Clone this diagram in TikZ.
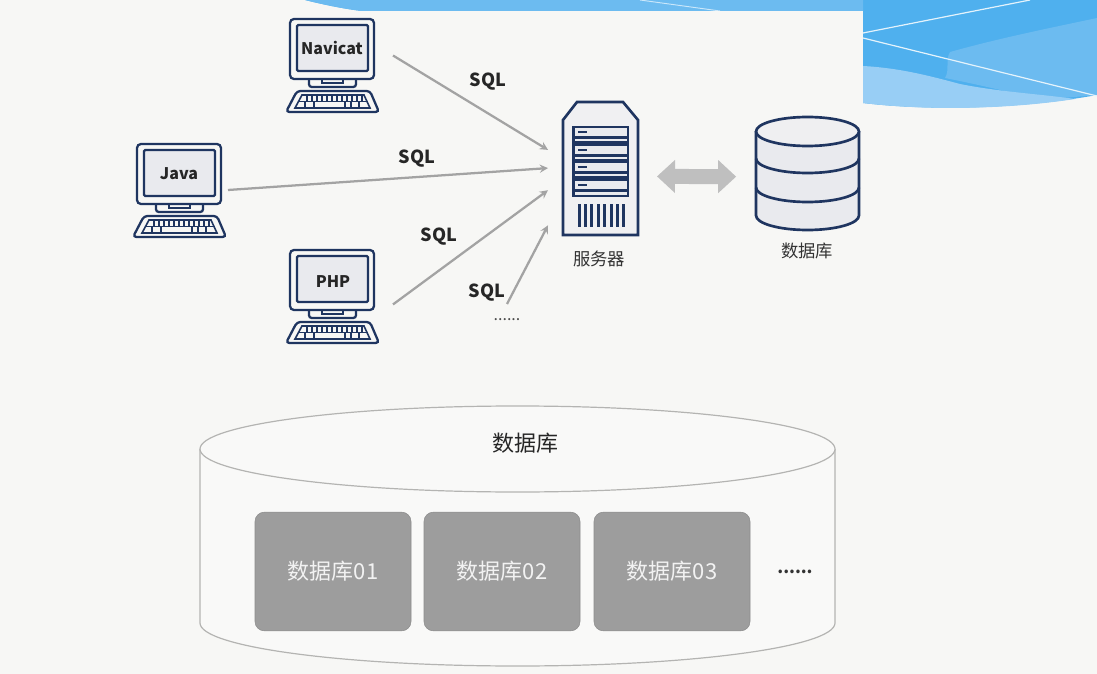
\documentclass[tikz,border=0pt]{standalone}
\usepackage{fontspec}
\setmainfont{Noto Sans CJK SC}
\usetikzlibrary{arrows.meta}

\definecolor{pagebg}{HTML}{F7F7F5}
\definecolor{navy}{HTML}{1F3560}
\definecolor{iconfill}{HTML}{E9EAEE}
\definecolor{skya}{HTML}{4FB0EE}
\definecolor{skyb}{HTML}{6CBBF0}
\definecolor{skyc}{HTML}{98CEF5}
\definecolor{linegray}{HTML}{B4B4B2}
\definecolor{arrowgray}{HTML}{A3A3A3}
\definecolor{boxgray}{HTML}{9D9D9D}

\tikzset{
  anchorbox/.style={rectangle, inner sep=0pt, outer sep=0pt},
  pclabel/.style={font=\bfseries\fontsize{12}{12}\selectfont, text=black!85},
  sqllabel/.style={font=\bfseries\fontsize{13.5}{13.5}\selectfont, text=black!85},
  smalllabel/.style={font=\fontsize{13}{13}\selectfont, text=black!80},
  dbbox/.style={rectangle, draw=black!45, fill=boxgray, rounded corners=7pt,
    minimum width=117pt, minimum height=89pt, inner sep=0pt,
    font=\fontsize{16.5}{16.5}\selectfont, text=white!95!black},
  sqlarrow/.style={->, >=stealth, arrowgray, line width=1.7pt},
  pcicon/.pic={
    \draw[navy, line width=1.7pt, fill=pagebg, rounded corners=3pt] (-43,-46) rectangle (41,14);
    \draw[navy, line width=1.7pt, fill=iconfill, rounded corners=1pt] (-36,-40) rectangle (35,6);
    \draw[navy, line width=1.7pt, rounded corners=2pt] (-24,14) -- (-24,22) -- (23,22) -- (23,14);
    \draw[navy, line width=1.3pt] (-11,14) -- (-11,18) -- (10,18) -- (10,14);
    \draw[navy, line width=1.7pt, rounded corners=2.5pt, fill=pagebg]
      (-36,26) -- (37,26) -- (46,47) -- (-47,47) -- cycle;
    \draw[navy, line width=1.2pt] (-31,30) -- (31,30) -- (37,43) -- (-38,43) -- cycle;
    \draw[navy, line width=1.1pt] (-35,36.5) -- (34,36.5);
    \foreach \k in {-26,-21,...,29}
      \draw[navy, line width=1.1pt] (\k,30) -- (\k,36.5);
    \foreach \k in {-28,-19,12,18,26}
      \draw[navy, line width=1.1pt] (\k,36.5) -- (\k,43);
  }
}

\begin{document}
\begin{tikzpicture}[x=.75pt, y=-.75pt]
\useasboundingbox (0,0) rectangle (1097,674);

%Background
\fill[pagebg] (0,0) rectangle (1097,674);
\fill[skya] (305,0) .. controls (325,5) and (345,9) .. (362,11) -- (863,11) -- (863,103)
  .. controls (930,111) and (1020,109) .. (1097,95) -- (1097,0) -- cycle;
\fill[skyb] (305,0) .. controls (325,5) and (345,9) .. (362,11) -- (863,11) -- (863,0) -- cycle;
\fill[skyb] (950,52) .. controls (1000,38) and (1050,28) .. (1097,18) -- (1097,95) -- (1040,100)
  .. controls (1010,92) and (980,85) .. (945,78) .. controls (950,70) and (945,60) .. (950,52) -- cycle;
\fill[skyc] (863,66) .. controls (900,68) and (930,76) .. (960,84) .. controls (1000,92) and (1040,94) .. (1075,99)
  .. controls (1010,109) and (930,111) .. (863,103) -- cycle;
\draw[white!85!skya, line width=.9pt] (863,33) -- (1030,0);
\draw[white!85!skya, line width=.9pt] (863,38) -- (1097,96);
\draw[white!70!skya, line width=.7pt] (640,0) -- (720,11);
\fill[pagebg] (362,11) rectangle (863,104);

%Clients
\node[anchorbox, minimum width=90pt, minimum height=71pt] (navicat) at (333,65) {};
\node[anchorbox, minimum width=72pt, minimum height=71pt] (java) at (180,190) {};
\node[anchorbox, minimum width=90pt, minimum height=71pt] (php) at (333,296) {};
\pic at (navicat) {pcicon};
\pic at (java) {pcicon};
\pic at (php) {pcicon};
\node[pclabel] (navicatname) at (332,48) {Navicat};
\node[pclabel] (javaname) at (179,174) {Java};
\node[pclabel] (phpname) at (333,282) {PHP};
\node[anchorbox, minimum width=24pt, minimum height=24pt, font=\fontsize{12}{12}\selectfont, text=black!70] (others) at (507,320) {......};

%Server
\node[anchorbox, minimum width=78.75pt, minimum height=100pt] (server) at (600.5,169) {};
\draw[navy, line width=2pt, fill=iconfill!50!pagebg] (563,120) -- (577,102) -- (623,102) -- (638,120) -- (638,235) -- (563,235) -- cycle;
\fill[navy] (572,126) rectangle (629,197);
\foreach \u in {0,1,2,3} {
  \fill[iconfill] (574.5,{128.5+17.4*\u}) rectangle (626.5,{136.5+17.4*\u});
  \fill[iconfill] (574.5,{139.5+17.4*\u}) rectangle (626.5,{141.5+17.4*\u});
  \fill[navy] (578,{131.5+17.4*\u}) rectangle (587,{133.5+17.4*\u});
}
\fill[iconfill] (574.5,193.5) rectangle (626.5,195);
\foreach \b in {0,...,7}
  \fill[navy] ({577.5+6.4*\b},204) rectangle ({580.5+6.4*\b},227);
\node[smalllabel] (servername) at (599,259) {服务器};

%Database icon
\node[anchorbox, minimum width=78pt, minimum height=85pt] (db) at (807.5,174) {};
\draw[navy, line width=2pt, fill=iconfill] (756,131.5) -- (756,215.5) arc (180:0:51.5 and 14.5) -- (859,131.5);
\draw[navy, line width=2pt, fill=iconfill!60!pagebg] (807.5,131.5) ellipse (51.5 and 14.5);
\draw[navy, line width=2pt] (756,158.5) arc (180:0:51.5 and 14.5);
\draw[navy, line width=2pt] (756,187.5) arc (180:0:51.5 and 14.5);
\node[smalllabel] (dbname) at (807,251) {数据库};

%Connections
\draw[sqlarrow] (navicat.9.5) -- (server.160);
\draw[sqlarrow] (java.east) -- (server.179);
\draw[sqlarrow] (php.-8.5) -- (server.202);
\draw[sqlarrow] (others.north) -- (server.227);
\draw[{Triangle[length=13.5pt,width=24pt]}-{Triangle[length=13.5pt,width=24pt]}, line width=11.25pt, black!25, shorten <=3pt, shorten >=14.5pt] (server.-8.7) -- (db.183.3);
\node[sqllabel] (sqla) at (488,82) {SQL};
\node[sqllabel] (sqlb) at (417,159) {SQL};
\node[sqllabel] (sqlc) at (439,237) {SQL};
\node[sqllabel] (sqld) at (487,293) {SQL};

%Big database
\draw[linegray, line width=.9pt, fill=pagebg!75!white] (200,449) -- (200,623) arc (180:0:317.5 and 43) -- (835,449);
\draw[linegray, line width=.9pt, fill=pagebg!75!white] (517.5,449) ellipse (317.5 and 43);
\node[font=\fontsize{16.5}{16.5}\selectfont, text=black!85] (bigdb) at (525,443) {数据库};
\node[dbbox] (db1) at (333,571.5) {数据库01};
\node[dbbox] (db2) at (502,571.5) {数据库02};
\node[dbbox] (db3) at (672,571.5) {数据库03};
\node[font=\bfseries\fontsize{12.5}{12.5}\selectfont, text=black!80] (more) at (795,572) {......};

\end{tikzpicture}
\end{document}
